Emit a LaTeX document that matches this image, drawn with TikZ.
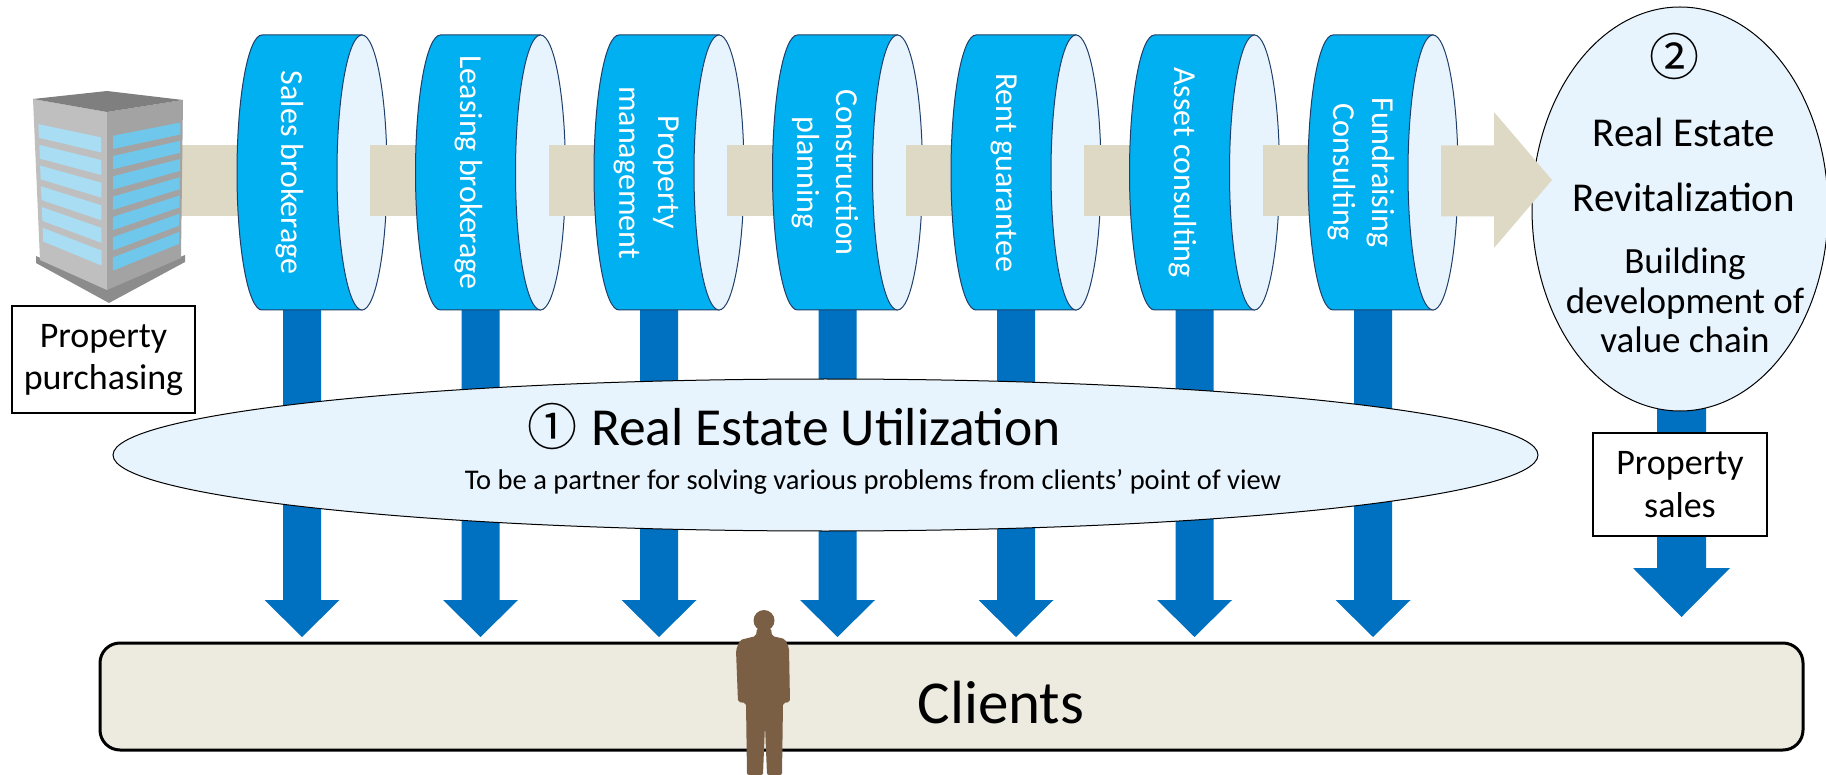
\documentclass[tikz,border=0pt]{standalone}
\usepackage{fontspec}
\setmainfont{Carlito}
\newfontfamily\circfont{Noto Sans CJK JP}
\usetikzlibrary{calc}
\definecolor{cylblue}{HTML}{00B0F0}
\definecolor{cylface}{HTML}{E8F4FD}
\definecolor{cyledge}{HTML}{1F3F6A}
\definecolor{arrowblue}{HTML}{0070C0}
\definecolor{bandbeige}{HTML}{DDD9C4}
\definecolor{clientfill}{HTML}{EDEBE0}
\definecolor{ovalfill}{HTML}{E8F4FD}
\definecolor{figbrown}{HTML}{7B5F45}
\definecolor{bldleft}{HTML}{BFBFBF}
\definecolor{bldright}{HTML}{A3A3A3}
\definecolor{bldtop}{HTML}{7F7F7F}
\definecolor{bldbase}{HTML}{8C8C8C}
\definecolor{winleft}{HTML}{A9DDF3}
\definecolor{winright}{HTML}{6FC8EB}
\begin{document}
\begin{tikzpicture}[x=1pt,y=-1pt,
  band/.style={fill=bandbeige},
  downarrow/.style={fill=arrowblue},
  cylbody/.style={fill=cylblue,draw=cyledge,line width=1pt},
  cylend/.style={fill=cylface,draw=cyledge,line width=1pt},
  cyltext/.style={rotate=-90,text=white,align=center,font=\fontsize{32}{39}\selectfont},
  oval/.style={fill=ovalfill,draw=black,line width=1pt},
  labelbox/.style={draw=black,line width=2.5pt,fill=white},
  boxtext/.style={anchor=base,font=\fontsize{36}{43}\selectfont},
]
\useasboundingbox (0,0) rectangle (1826,775);

% horizontal flow band, first piece (building to first stage)
\fill[band] (150,145.5) rectangle (262,216.5);

% service arrows down to the clients
\foreach \i in {0,...,6}{
  \pgfmathsetmacro{\cx}{302+178.5*\i}
  \fill[downarrow] ({\cx-19},300) -- ({\cx+19},300) -- ({\cx+19},600) -- ({\cx+37.5},600)
     -- ({\cx},637) -- ({\cx-37.5},600) -- ({\cx-19},600) -- cycle;
}

% service stages as cylinders
\foreach \i/\txt in {0/{Sales brokerage},1/{Leasing brokerage},2/{Property\\management},
  3/{Construction\\planning},4/{Rent guarantee},5/{Asset consulting},6/{Fundraising\\Consulting}}{
  \pgfmathsetmacro{\lx}{262+178.5*\i}
  \pgfmathsetmacro{\rx}{\lx+100}
  \filldraw[cylbody] ({\lx},35) -- ({\rx},35) -- ({\rx},310) -- ({\lx},310)
     arc[start angle=90,end angle=270,x radius=25,y radius=137.5] -- cycle;
  \filldraw[cylend] ({\rx},172.5) ellipse[x radius=25,y radius=137.5];
  \node[cyltext] (stage\i) at ({\lx+28},172.5) {\txt};
  \ifnum\i<6
    \fill[band] ({\rx+8},145.5) rectangle ({\lx+178.5},216.5);
  \fi
}

% utilization oval
\filldraw[oval] (825.5,455) ellipse[x radius=712.5,y radius=76];
\node[anchor=base,font=\fontsize{53.5}{60}\selectfont] (util) at (794,445)
  {{\circfont\fontsize{50}{60}\selectfont ①}\hspace{14pt}Real Estate Utilization};
\node[anchor=base,font=\fontsize{28.5}{34}\selectfont] (utilsub) at (873,489)
  {To be a partner for solving various problems from clients’ point of view};

% revitalization branch on the right
\fill[downarrow] (1657,380) -- (1706,380) -- (1706,568) -- (1730,568) -- (1681.5,617)
  -- (1633,568) -- (1657,568) -- cycle;
\filldraw[oval] (1680,209) ellipse[x radius=148,y radius=202];
\node[font=\circfont\fontsize{50}{56}\selectfont] (two) at (1674,57) {②};
\node[anchor=base,font=\fontsize{41}{48}\selectfont] (re1) at (1684,147) {Real Estate};
\node[anchor=base,font=\fontsize{41}{48}\selectfont] (re2) at (1684,212) {Revitalization};
\node[anchor=base,font=\fontsize{37}{39.5}\selectfont,align=center] (re3) at (1685,353)
  {Building\\development of\\value chain};
\filldraw[labelbox] (1593,433) rectangle (1767,536);
\node[boxtext,align=center] (sales) at (1680,517) {Property\\sales};

% final arrowhead into the revitalization oval
\fill[band] (1441,145.5) -- (1494,145.5) -- (1494,112) -- (1552,180) -- (1494,248)
  -- (1494,216.5) -- (1441,216.5) -- cycle;

% clients bar
\filldraw[fill=clientfill,draw=black,line width=3pt,rounded corners=20pt] (100,643) rectangle (1803,750);
\node[anchor=base,font=\fontsize{61}{70}\selectfont] (clients) at (1001,723) {Clients};

% standing figure
\fill[figbrown] (764,620.5) circle[radius=10.5];
\fill[figbrown,rounded corners=2pt] (757,628) -- (771,628) -- (772,636) -- (785,639) -- (789,648)
  -- (790,702) -- (783,703) -- (782,775) -- (767,775) -- (765,725) -- (763,775) -- (747,775)
  -- (746,703) -- (738,702) -- (736,650) -- (740,640) -- (756,636) -- cycle;

% office building
\coordinate (LT) at (33,99);  \coordinate (FT) at (107,112); \coordinate (RT) at (183,100);
\coordinate (LB) at (40,260); \coordinate (FB) at (107,290); \coordinate (RB) at (181,258);
\fill[bldbase] (36,256) -- (107,287) -- (185,255) -- (185,262) -- (109,303) -- (36,263) -- cycle;
\fill[bldleft] (LT) -- (FT) -- (FB) -- (LB) -- cycle;
\fill[bldright] (FT) -- (RT) -- (RB) -- (FB) -- cycle;
\fill[bldtop] (LT) -- (107,91) -- (RT) -- (FT) -- cycle;
\foreach \k in {0,...,5}{
  \pgfmathsetmacro{\va}{0.15+0.128*\k}
  \pgfmathsetmacro{\vb}{\va+0.085}
  \coordinate (p0) at ($(LT)!\va!(LB)$); \coordinate (q0) at ($(FT)!\va!(FB)$);
  \coordinate (p1) at ($(LT)!\vb!(LB)$); \coordinate (q1) at ($(FT)!\vb!(FB)$);
  \fill[winleft] ($(p0)!0.06!(q0)$) -- ($(p0)!0.92!(q0)$) -- ($(p1)!0.92!(q1)$) -- ($(p1)!0.06!(q1)$) -- cycle;
}
\foreach \k in {0,...,6}{
  \pgfmathsetmacro{\va}{0.14+0.115*\k}
  \pgfmathsetmacro{\vb}{\va+0.075}
  \coordinate (p0) at ($(FT)!\va!(FB)$); \coordinate (q0) at ($(RT)!\va!(RB)$);
  \coordinate (p1) at ($(FT)!\vb!(FB)$); \coordinate (q1) at ($(RT)!\vb!(RB)$);
  \fill[winright] ($(p0)!0.08!(q0)$) -- ($(p0)!0.97!(q0)$) -- ($(p1)!0.97!(q1)$) -- ($(p1)!0.08!(q1)$) -- cycle;
}

% purchasing label
\filldraw[labelbox] (12,306) rectangle (195,413);
\node[boxtext,align=center] (purch) at (103.5,390) {Property\\purchasing};
\end{tikzpicture}
\end{document}
